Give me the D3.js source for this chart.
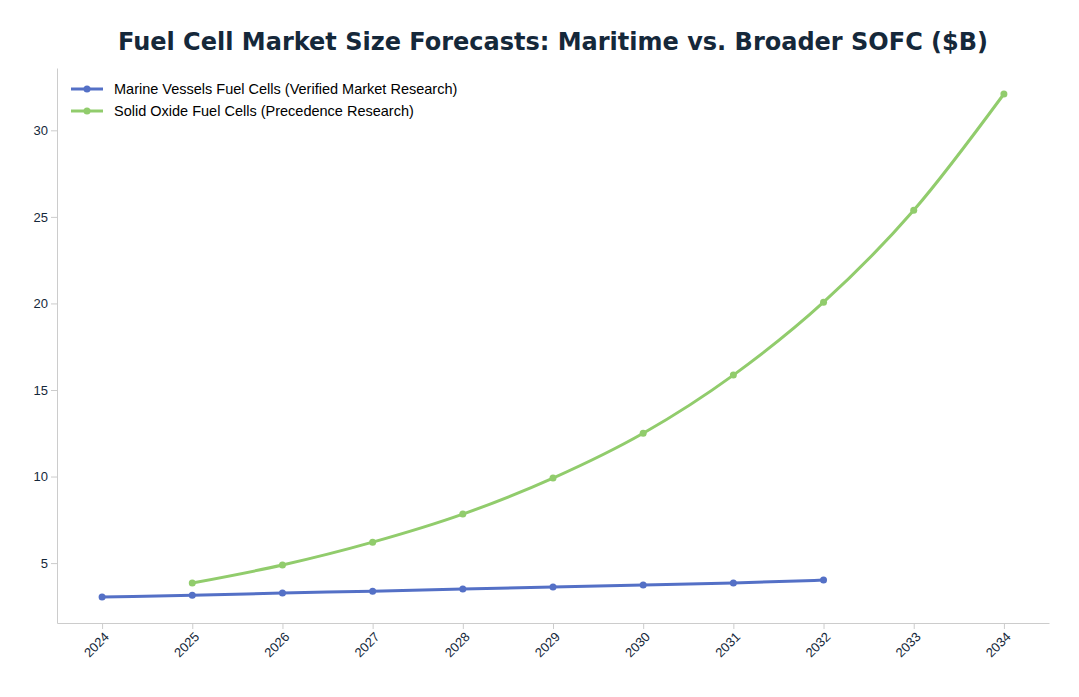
<!DOCTYPE html>
<html><head><meta charset="utf-8">
<script src="https://cdn.jsdelivr.net/npm/d3@7"></script>
<style>body{margin:0;background:#fff;font-family:"DejaVu Sans",sans-serif;}</style>
</head><body><div id="chart"></div>
<script>
// chart data
var years = [2024, 2025, 2026, 2027, 2028, 2029, 2030, 2031, 2032, 2033, 2034];
var marineYears = [2024, 2025, 2026, 2027, 2028, 2029, 2030, 2031, 2032];
var marineValues = [3.04, 3.15, 3.27, 3.38, 3.5, 3.62, 3.73, 3.85, 4.02];
var sofcYears = [2025, 2026, 2027, 2028, 2029, 2030, 2031, 2032, 2033, 2034];
var sofcValues = [3.85, 4.89, 6.21, 7.83, 9.91, 12.5, 15.86, 20.07, 25.38, 32.1];
var yTicks = [5, 10, 15, 20, 25, 30];

var margin = {top: 68, right: 30, bottom: 74, left: 57},
    width = 1079 - margin.left - margin.right,
    height = 697 - margin.top - margin.bottom;

var svg = d3.select("#chart").append("svg")
  .attr("width", 1079).attr("height", 697);

svg.append("text").attr("x", 553).attr("y", 50).attr("text-anchor", "middle")
  .attr("font-size", 24).attr("font-weight", "bold").attr("fill", "#15283a")
  .text("Fuel Cell Market Size Forecasts: Maritime vs. Broader SOFC ($B)");

var g = svg.append("g").attr("transform", "translate(" + margin.left + "," + margin.top + ")");

var x = d3.scaleLinear().domain([2023.5, 2034.5]).range([0, width]);
var y = d3.scaleLinear().domain([1.54, 33.6]).range([height, 0]);

var xAxis = g.append("g").attr("transform", "translate(0," + height + ")")
  .call(d3.axisBottom(x).tickValues(years).tickFormat(d3.format("d")).tickSizeOuter(0));
xAxis.selectAll("text").attr("transform", "rotate(-45)").attr("text-anchor", "end")
  .attr("dx", "-0.4em").attr("dy", "0.5em");
var yAxis = g.append("g").call(d3.axisLeft(y).tickValues(yTicks).tickSizeOuter(0));
[xAxis, yAxis].forEach(function(a) {
  a.selectAll("path,line").attr("stroke", "#ccc");
  a.selectAll("text").attr("font-size", 13).attr("fill", "#15283a");
});

function drawSeries(xs, vs, color) {
  var pts = xs.map(function(d, i) { return [d, vs[i]]; });
  g.append("path").datum(pts).attr("fill", "none").attr("stroke", color).attr("stroke-width", 3)
    .attr("d", d3.line().curve(d3.curveMonotoneX).x(function(d) { return x(d[0]); }).y(function(d) { return y(d[1]); }));
  g.selectAll(null).data(pts).enter().append("circle")
    .attr("cx", function(d) { return x(d[0]); }).attr("cy", function(d) { return y(d[1]); })
    .attr("r", 3.5).attr("fill", color);
}
drawSeries(marineYears, marineValues, "#5470c6");
drawSeries(sofcYears, sofcValues, "#91cc6c");

var legend = [["Marine Vessels Fuel Cells (Verified Market Research)", "#5470c6"],
              ["Solid Oxide Fuel Cells (Precedence Research)", "#91cc6c"]];
legend.forEach(function(l, i) {
  var ly = 89 + i * 22;
  svg.append("line").attr("x1", 71).attr("x2", 103).attr("y1", ly).attr("y2", ly)
    .attr("stroke", l[1]).attr("stroke-width", 3);
  svg.append("circle").attr("cx", 87).attr("cy", ly).attr("r", 3.5).attr("fill", l[1]);
  svg.append("text").attr("x", 114).attr("y", ly + 5).attr("font-size", 14.5).attr("fill", "#000")
    .attr("font-family", "Liberation Sans, Arial, sans-serif").text(l[0]);
});
</script></body></html>
